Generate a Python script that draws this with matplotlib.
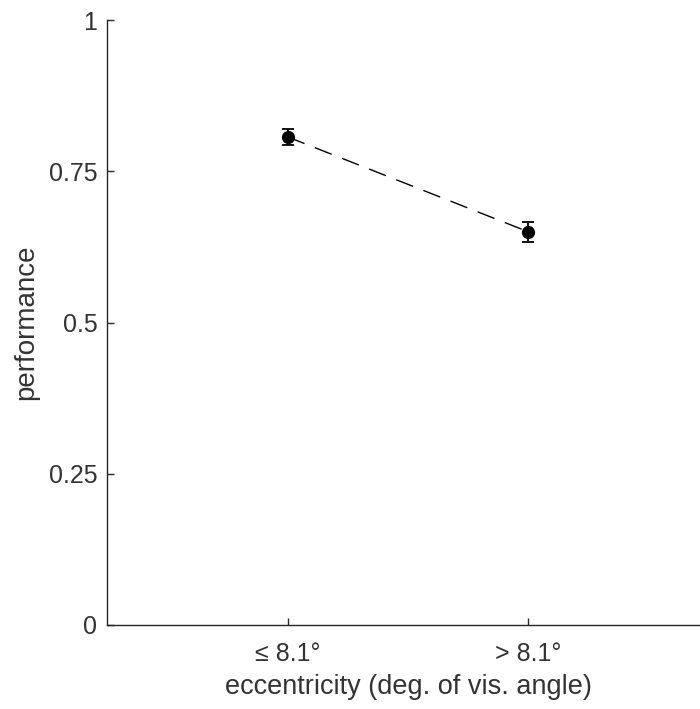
import matplotlib
matplotlib.use("Agg")
import matplotlib.pyplot as plt

plt.rcParams["font.family"] = ["Liberation Sans", "DejaVu Sans"]

# data
conditions = ["≤ 8.1°", "> 8.1°"]
x_pos = [1, 2]
performance = [0.807, 0.650]
sem = [0.013, 0.016]
y_ticks = [0, 0.25, 0.5, 0.75, 1]
y_ticklabels = ["0", "0.25", "0.5", "0.75", "1"]

TXT = "#333333"

fig = plt.figure(figsize=(7.0, 7.09), dpi=100)
ax = fig.add_axes([0.153, 0.1185, 0.86, 0.853])

ax.errorbar(x_pos, performance, yerr=sem, color="black", marker="o", markersize=8.5,
            linestyle=(0, (13, 8)), linewidth=1.0, capsize=4.5, elinewidth=1.3, capthick=1.3)

ax.set_xlim(0.25, 2.75)
ax.set_ylim(0, 1)
ax.set_xticks(x_pos)
ax.set_xticklabels(conditions, fontsize=18, color=TXT)
ax.set_yticks(y_ticks)
ax.set_yticklabels(y_ticklabels, fontsize=18, color=TXT)
ax.tick_params(axis="y", direction="in", length=5, width=1, color="#262626", pad=7)
ax.tick_params(axis="x", direction="in", length=5, width=1, color="#262626", pad=12)

for s in ["top", "right"]:
    ax.spines[s].set_visible(False)
for s in ["left", "bottom"]:
    ax.spines[s].set_color("#262626")
    ax.spines[s].set_linewidth(1.0)

ax.set_xlabel("eccentricity (deg. of vis. angle)", fontsize=19.5, color=TXT, labelpad=6)
ax.set_ylabel("performance", fontsize=20, color=TXT, labelpad=7)

fig.savefig("out.png", dpi=100)
